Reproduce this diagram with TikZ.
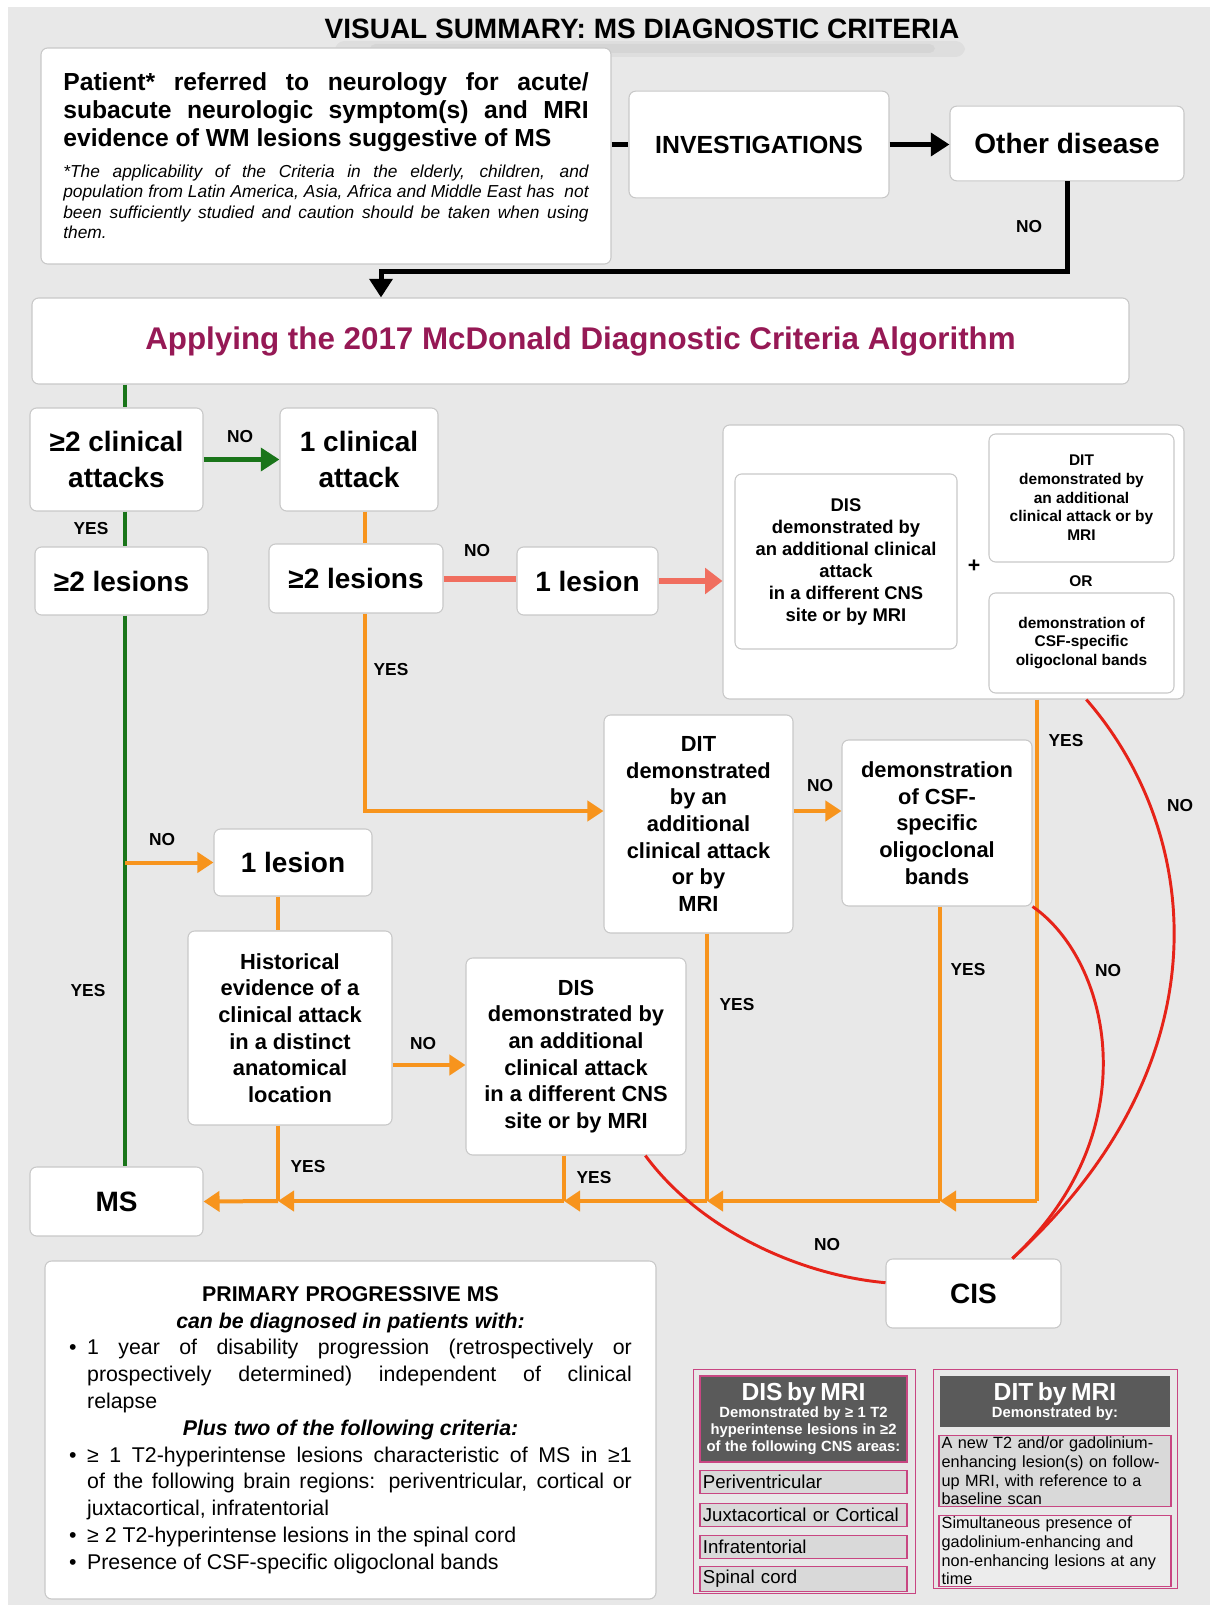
\documentclass[tikz,border=0pt]{standalone}
\usepackage{fontspec}
\setmainfont{Liberation Sans}
\usetikzlibrary{arrows.meta}

\definecolor{bggrey}{RGB}{232,232,232}
\definecolor{boxedge}{RGB}{200,200,200}
\definecolor{msorange}{RGB}{247,148,29}
\definecolor{msgreen}{RGB}{26,117,26}
\definecolor{salmon}{RGB}{240,110,95}
\definecolor{msred}{RGB}{230,35,25}
\definecolor{plum}{RGB}{150,25,85}
\definecolor{pinkedge}{RGB}{200,70,130}
\definecolor{darkhead}{RGB}{90,90,90}
\definecolor{itemgrey}{RGB}{217,217,217}
\definecolor{itemlight}{RGB}{236,236,236}

\newcommand{\fsz}[2]{\fontsize{#1}{#2}\selectfont}
\newcommand{\bul}[1]{\par\noindent\hangindent=13.5pt\hangafter=1\makebox[13.5pt][l]{\textbullet}#1\par}

\tikzset{
  box/.style={draw=boxedge, fill=white, rounded corners=5pt, line width=0.8pt, align=center, inner sep=2pt},
  bigtxt/.style={font=\fsz{21}{27}\bfseries},
  midtxt/.style={font=\fsz{16.4}{20}\bfseries},
  lbl/.style={font=\fsz{13}{15}\bfseries},
  head/.style={draw=pinkedge, fill=darkhead, text=white, line width=0.8pt, align=center, inner sep=1pt},
  item/.style={draw=pinkedge, fill=itemgrey, line width=0.8pt, align=left, inner xsep=2pt, inner ysep=0.5pt},
  blackflow/.style={draw=black, line width=3.75pt},
  blackarrow/.style={blackflow, -{Triangle[length=14pt,width=17pt]}},
  greenflow/.style={draw=msgreen, line width=3.5pt},
  greenarrow/.style={greenflow, -{Triangle[length=14pt,width=17pt]}},
  orangeflow/.style={draw=msorange, line width=3pt},
  orangearrow/.style={orangeflow, -{Triangle[length=12pt,width=15pt]}},
  salmonflow/.style={draw=salmon, line width=4.5pt},
  salmonarrow/.style={salmonflow, -{Triangle[length=13pt,width=19pt]}},
  redflow/.style={draw=msred, line width=2.2pt},
}

\begin{document}
\begin{tikzpicture}[x=0.75pt,y=-0.75pt]
\fill[white] (0,0) rectangle (1210,1605);
\fill[bggrey] (8,7) rectangle (1210,1605);
\useasboundingbox (0,0) rectangle (1210,1605);

% title with its soft shadow
\fill[black, opacity=0.04, rounded corners=7pt] (335,41) rectangle (965,57);
\fill[black, opacity=0.04, rounded corners=4pt] (370,44) rectangle (935,53);
\node (title) at (642,29) [font=\fsz{21}{25}\bfseries] {VISUAL SUMMARY: MS DIAGNOSTIC CRITERIA};

% top row
\node (patient) at (326,156) [box, minimum width=427.5pt, minimum height=162pt, text width=394pt, align=justify]
  {{\fsz{18.5}{20.7}\bfseries Patient* referred to neurology for acute/\linebreak subacute neurologic symptom(s) and MRI\linebreak evidence of WM lesions suggestive of MS\par}
   \vspace{8pt}
   {\fsz{13}{15.4}\itshape *The applicability of the Criteria in the elderly, children, and\linebreak population from Latin America, Asia, Africa and Middle East has~ not\linebreak been sufficiently studied and caution should be taken when using\linebreak them.\par}};
\node (invest) at (759,144.5) [box, font=\fsz{18.6}{22}\bfseries, minimum width=195pt, minimum height=80pt] {INVESTIGATIONS};
\node (other) at (1067,143.5) [box, font=\fsz{21}{25}\bfseries, minimum width=175.5pt, minimum height=56pt] {Other disease};
\node (apply) at (580.5,341) [box, font=\fsz{23.5}{28}\bfseries, text=plum, minimum width=822.75pt, minimum height=64.5pt] {Applying the 2017 McDonald Diagnostic Criteria Algorithm};

% algorithm boxes
\node (att2) at (116.5,459.5) [box, bigtxt, minimum width=129.75pt, minimum height=77.25pt] {≥2 clinical\\attacks};
\node (att1) at (359,459.5) [box, bigtxt, minimum width=118.5pt, minimum height=77.25pt] {1 clinical\\attack};
\node (les2a) at (121.5,581) [box, bigtxt, minimum width=129.75pt, minimum height=51pt] {≥2 lesions};
\node (les2b) at (356,578.5) [box, bigtxt, minimum width=130.5pt, minimum height=51.75pt] {≥2 lesions};
\node (les1a) at (587.5,581) [box, bigtxt, minimum width=105.75pt, minimum height=51pt] {1 lesion};

\node (panel) at (953.5,562) [box, minimum width=345.75pt, minimum height=205.5pt] {};
\node (disA) at (846,561.5) [box, font=\fsz{13.8}{16.5}\bfseries, minimum width=166.5pt, minimum height=131.25pt]
  {DIS\\demonstrated by\\an additional clinical\\attack\\in a different CNS\\site or by MRI};
\node (ditA) at (1081.5,498) [box, font=\fsz{11.6}{14}\bfseries, minimum width=138.75pt, minimum height=96pt]
  {DIT\\demonstrated by\\an additional\\clinical attack or by\\MRI};
\node (csfA) at (1081.5,643) [box, font=\fsz{11.6}{14}\bfseries, minimum width=138.75pt, minimum height=75pt]
  {demonstration of\\CSF-specific\\oligoclonal bands};
\node (plus) at (974,566) [font=\fsz{16}{18}\bfseries] {+};
\node (orword) at (1081,581) [font=\fsz{11.6}{14}\bfseries] {OR};

\node (ditB) at (698.5,824) [box, midtxt, minimum width=141.75pt, minimum height=163.5pt]
  {DIT\\demonstrated\\by an\\additional\\clinical attack\\or by\\MRI};
\node (csfB) at (937,823) [box, midtxt, minimum width=142.5pt, minimum height=124.5pt]
  {demonstration\\of CSF-\\specific\\oligoclonal\\bands};
\node (les1b) at (293,862.5) [box, bigtxt, minimum width=118.5pt, minimum height=50.25pt] {1 lesion};
\node (hist) at (290,1028) [box, midtxt, minimum width=153pt, minimum height=145.5pt]
  {Historical\\evidence of a\\clinical attack\\in a distinct\\anatomical\\location};
\node (disB) at (576,1056.5) [box, midtxt, minimum width=165pt, minimum height=147.75pt]
  {DIS\\demonstrated by\\an additional\\clinical attack\\in a different CNS\\site or by MRI};
\node (ms) at (116.5,1201.5) [box, bigtxt, minimum width=129.75pt, minimum height=51.75pt] {MS};
\node (cis) at (973.5,1293.5) [box, bigtxt, minimum width=131.25pt, minimum height=51.75pt] {CIS};

% primary progressive
\node (ppms) at (350.5,1430) [box, minimum width=458.25pt, minimum height=253.5pt, text width=422pt, align=justify, font=\fsz{16}{20.1}]
  {{\centering\bfseries PRIMARY PROGRESSIVE MS\\ \itshape can be diagnosed in patients with:\par}
   \bul{1 year of disability progression (retrospectively or\linebreak prospectively determined) independent of clinical\linebreak relapse}
   {\centering\bfseries\itshape Plus two of the following criteria:\par}
   \bul{≥ 1 T2-hyperintense lesions characteristic of MS in ≥1\linebreak of the following brain regions: periventricular, cortical or\linebreak juxtacortical, infratentorial}
   \bul{≥ 2 T2-hyperintense lesions in the spinal cord}
   \bul{Presence of CSF-specific oligoclonal bands}};

% MRI tables
\node (disbox) at (804,1481) [draw=pinkedge, line width=0.6pt, minimum width=166.5pt, minimum height=168pt] {};
\node (dishead) at (803.5,1419) [head, minimum width=155.25pt, minimum height=64.5pt, text width=153pt]
  {{\fsz{18.5}{20}\bfseries DIS by MRI\par}{\fsz{11.1}{12.75}\bfseries Demonstrated by ≥ 1 T2\\hyperintense lesions in ≥2\\of the following CNS areas:\par}};
\node (peri) at (803.5,1482) [item, font=\fsz{14}{16}, minimum width=155.25pt, minimum height=17pt, text width=151pt] {Periventricular};
\node (juxta) at (803.5,1515) [item, font=\fsz{14}{16}, minimum width=155.25pt, minimum height=17pt, text width=151pt] {Juxtacortical or Cortical};
\node (infra) at (803.5,1547) [item, font=\fsz{14}{16}, minimum width=155.25pt, minimum height=17pt, text width=151pt] {Infratentorial};
\node (spinal) at (803.5,1579) [item, font=\fsz{14}{16}, minimum width=155.25pt, minimum height=19pt, text width=151pt] {Spinal cord};

\node (ditbox) at (1055,1478.5) [draw=pinkedge, line width=0.6pt, minimum width=183pt, minimum height=164.25pt] {};
\node (dithead) at (1055,1401.5) [head, draw=none, minimum width=172.5pt, minimum height=38.25pt, text width=170pt]
  {{\fsz{18.5}{20}\bfseries DIT by MRI\par}{\fsz{11.1}{12.75}\bfseries Demonstrated by:\par}};
\node (newles) at (1055,1471) [item, font=\fsz{12.2}{14}, minimum width=174pt, minimum height=53pt, text width=170pt]
  {A new T2 and/or gadolinium-\\enhancing lesion(s) on follow-\\up MRI, with reference to a\\baseline scan};
\node (simul) at (1055,1551) [item, fill=itemlight, font=\fsz{12.2}{14}, minimum width=174pt, minimum height=53pt, text width=170pt]
  {Simultaneous presence of\\gadolinium-enhancing and\\non-enhancing lesions at any\\time};

% connectors
\coordinate (nojoin) at (381,271);
\coordinate (gtop) at (125,384);
\coordinate (bendB) at (365,811);
\coordinate (gno) at (125,862.5);
\coordinate (histno) at (392,1065);
\coordinate (jp) at (1037,1201);
\coordinate (jc) at (940,1201);
\coordinate (jt) at (707,1201);
\coordinate (jd) at (564,1201);
\coordinate (jh) at (278,1201);

\draw[blackflow] (patient.east |- invest.west) -- (invest.west);
\draw[blackarrow] (invest.east) -- (other.west |- invest.east);
\draw[blackarrow] (other.south) |- (nojoin) -- (nojoin |- apply.north);

\draw[greenflow] (apply.south -| gtop) -- (att2.north -| gtop);
\draw[greenarrow] (att2.east) -- (att2.east -| att1.west);
\draw[greenflow] (att2.south -| gtop) -- (les2a.north -| gtop);
\draw[greenflow] (les2a.south -| gtop) -- (ms.north -| gtop);

\draw[orangeflow] (att1.south -| bendB) -- (les2b.north -| bendB);
\draw[salmonflow] (les2b.east) -- (les2b.east -| les1a.west);
\draw[salmonarrow] (les1a.east) -- (les1a.east -| panel.west);
\draw[orangearrow] (les2b.south -| bendB) -- (bendB) -- (bendB -| ditB.west);
\draw[orangearrow] (ditB.east |- bendB) -- (csfB.west |- bendB);
\draw[orangearrow] (gno) -- (les1b.west);
\draw[orangeflow] (les1b.south -| jh) -- (hist.north -| jh);
\draw[orangearrow] (hist.east |- histno) -- (disB.west |- histno);

\draw[orangeflow] (panel.south -| jp) -- (jp);
\draw[orangearrow] (jp) -- (jc);
\draw[orangeflow] (csfB.south -| jc) -- (jc);
\draw[orangearrow] (jc) -- (jt);
\draw[orangeflow] (ditB.south -| jt) -- (jt);
\draw[orangearrow] (jt) -- (jd);
\draw[orangeflow] (disB.south -| jd) -- (jd);
\draw[orangearrow] (jd) -- (jh);
\draw[orangeflow] (hist.south -| jh) -- (jh);
\draw[orangearrow] (jh) -- (ms.east);

\draw[redflow] (panel.314.5) .. controls (1200,830) and (1230,1060) .. (cis.42);
\draw[redflow] (csfB.south east) .. controls (1110,960) and (1150,1130) .. (cis.42);
\draw[redflow] (disB.305.8) .. controls (700,1230) and (800,1275) .. (cis.173);

% yes / no labels
\node (noTop) at (1029,227) [lbl] {NO};
\node (noG) at (240,437) [lbl] {NO};
\node (yesG1) at (91,529) [lbl] {YES};
\node (noS) at (477,551) [lbl] {NO};
\node (yesB) at (391,670) [lbl] {YES};
\node (yesP) at (1066,741) [lbl] {YES};
\node (noR1) at (1180,806) [lbl] {NO};
\node (noD) at (820,786) [lbl] {NO};
\node (noGl) at (162,840) [lbl] {NO};
\node (yesG2) at (88,991) [lbl] {YES};
\node (yesC) at (968,970) [lbl] {YES};
\node (noR2) at (1108,971) [lbl] {NO};
\node (yesT) at (737,1005) [lbl] {YES};
\node (noH) at (423,1044) [lbl] {NO};
\node (yesH) at (308,1167) [lbl] {YES};
\node (yesD) at (594,1178) [lbl] {YES};
\node (noR3) at (827,1245) [lbl] {NO};
\end{tikzpicture}
\end{document}
